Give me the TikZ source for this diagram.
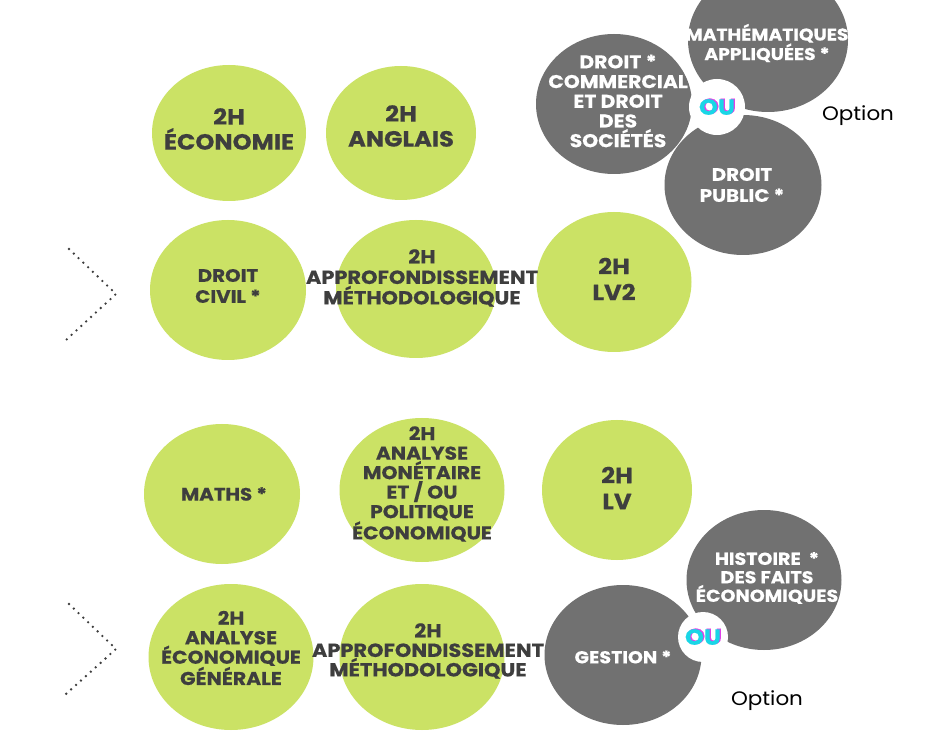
\documentclass[tikz,border=0pt]{standalone}
\usepackage{fontspec}
\setmainfont{Poppins}[FakeStretch=1.1,BoldFeatures={FakeBold=0.4}]
\usetikzlibrary{shapes.geometric}
\definecolor{bgreen}{HTML}{CBE265}
\definecolor{bgray}{HTML}{717171}
\definecolor{tdark}{HTML}{3E3E3E}
\definecolor{oucyan}{HTML}{19D6E6}
\definecolor{oumag}{HTML}{E040E8}
\tikzset{
  gbub/.style={ellipse,fill=bgreen,draw=none,inner sep=0pt},
  ybub/.style={ellipse,fill=bgray,draw=none,inner sep=0pt},
  gtxt/.style 2 args={align=center,text=tdark,inner sep=0pt,font=\bfseries\fontsize{#1}{#2}\selectfont},
  wtxt/.style 2 args={align=center,text=white,inner sep=0pt,font=\bfseries\fontsize{#1}{#2}\selectfont},
  oucirc/.style={circle,fill=white,inner sep=0pt},
  optxt/.style={text=black,inner sep=0pt,font=\fontsize{19.5}{21}\selectfont},
  chev/.style={draw=tdark,line width=2.6pt,line cap=round,dash pattern=on 0pt off 6.6pt}
}
\newcommand{\ouword}[2]{%
  \node[text=oumag,font=\bfseries\fontsize{22}{24}\selectfont,inner sep=0pt] at ([xshift=1.3pt,yshift=0.7pt]#1) {OU};
  \node[text=oucyan,font=\bfseries\fontsize{22}{24}\selectfont,inner sep=0pt] (#2) at (#1) {OU};}
\begin{document}
\begin{tikzpicture}[x=1pt,y=-1pt]
\useasboundingbox (0,0) rectangle (938,743);
\fill[white] (0,0) rectangle (938,743);
\clip (0,0) rectangle (938,743);
% green bubbles
\node[gbub,minimum width=154pt,minimum height=136pt] (eco) at (229,133) {};
\node[gbub,minimum width=150pt,minimum height=134pt] (ang) at (401,133) {};
\node[gbub,minimum width=156pt,minimum height=140pt] (civ) at (228,290) {};
\node[gbub,minimum width=160pt,minimum height=138pt] (app1) at (416,289) {};
\node[gbub,minimum width=155pt,minimum height=140pt] (lv2) at (614,282) {};
\node[gbub,minimum width=156pt,minimum height=140pt] (math) at (222,494) {};
\node[gbub,minimum width=165pt,minimum height=144pt] (mon) at (422,490) {};
\node[gbub,minimum width=150pt,minimum height=140pt] (lv) at (617,490) {};
\node[gbub,minimum width=165pt,minimum height=146pt] (aeg) at (231,657) {};
\node[gbub,minimum width=165pt,minimum height=146pt] (app2) at (422,657) {};
% gray bubbles
\node[ybub,minimum width=160pt,minimum height=144pt] (mapp) at (768,40) {};
\node[ybub,minimum width=156pt,minimum height=140pt] (dcom) at (614,104) {};
\node[ybub,minimum width=157pt,minimum height=140pt] (dpub) at (743,185) {};
\node[ybub,minimum width=155pt,minimum height=140pt] (hist) at (764,580) {};
\node[ybub,minimum width=157pt,minimum height=140pt] (gest) at (623,655) {};
% OU circles
\node[oucirc,minimum size=56pt] (ou1c) at (717,107) {};
\node[oucirc,minimum size=50pt] (ou2c) at (703,637) {};
\ouword{ou1c}{ou1}
\ouword{ou2c}{ou2}
% texts
\node[gtxt={22}{25}] (teco) at (229,129) {2H\\ÉCONOMIE};
\node[gtxt={22}{25}] (tang) at (401,126) {2H\\ANGLAIS};
\node[gtxt={18}{21}] (tciv) at (228,286) {DROIT\\CIVIL *};
\node[gtxt={19}{20.5}] (tapp1) at (422,278) {2H\\APPROFONDISSEMENT\\MÉTHODOLOGIQUE};
\node[gtxt={22}{26}] (tlv2) at (614,279) {2H\\LV2};
\node[gtxt={18}{19}] (tmath) at (224,494) {MATHS *};
\node[gtxt={18.5}{19.5}] (tmon) at (422,484) {2H\\ANALYSE\\MONÉTAIRE\\ET / OU\\POLITIQUE\\ÉCONOMIQUE};
\node[gtxt={22}{26}] (tlv) at (617,488) {2H\\LV};
\node[gtxt={18.5}{19.5}] (taeg) at (231,648) {2H\\ANALYSE\\ÉCONOMIQUE\\GÉNÉRALE};
\node[gtxt={19}{19.5}] (tapp2) at (428,651) {2H\\APPROFONDISSEMENT\\MÉTHODOLOGIQUE};
\node[wtxt={18.5}{19.7}] (tdcom) at (618,101) {DROIT *\\COMMERCIAL\\ET DROIT\\DES\\SOCIÉTÉS};
\node[wtxt={17}{19.5}] (tmapp) at (767,43) {MATHÉMATIQUES\\APPLIQUÉES *};
\node[wtxt={18}{21}] (tdpub) at (742,185) {DROIT\\PUBLIC *};
\node[wtxt={17.3}{18.5}] (thist) at (767,578) {HISTOIRE~~*\\DES FAITS\\ÉCONOMIQUES};
\node[wtxt={17.3}{18}] (tgest) at (623,657) {GESTION *};
\node[optxt] (opt1) at (858,116) {Option};
\node[optxt] (opt2) at (767,701) {Option};
% chevrons
\coordinate (c1a) at (69,249); \coordinate (c1b) at (116,294); \coordinate (c1c) at (66,340);
\coordinate (c2a) at (69,604); \coordinate (c2b) at (116,649); \coordinate (c2c) at (66,694);
\draw[chev] (c1a) -- (c1b) -- (c1c);
\draw[chev] (c2a) -- (c2b) -- (c2c);
\end{tikzpicture}
\end{document}
